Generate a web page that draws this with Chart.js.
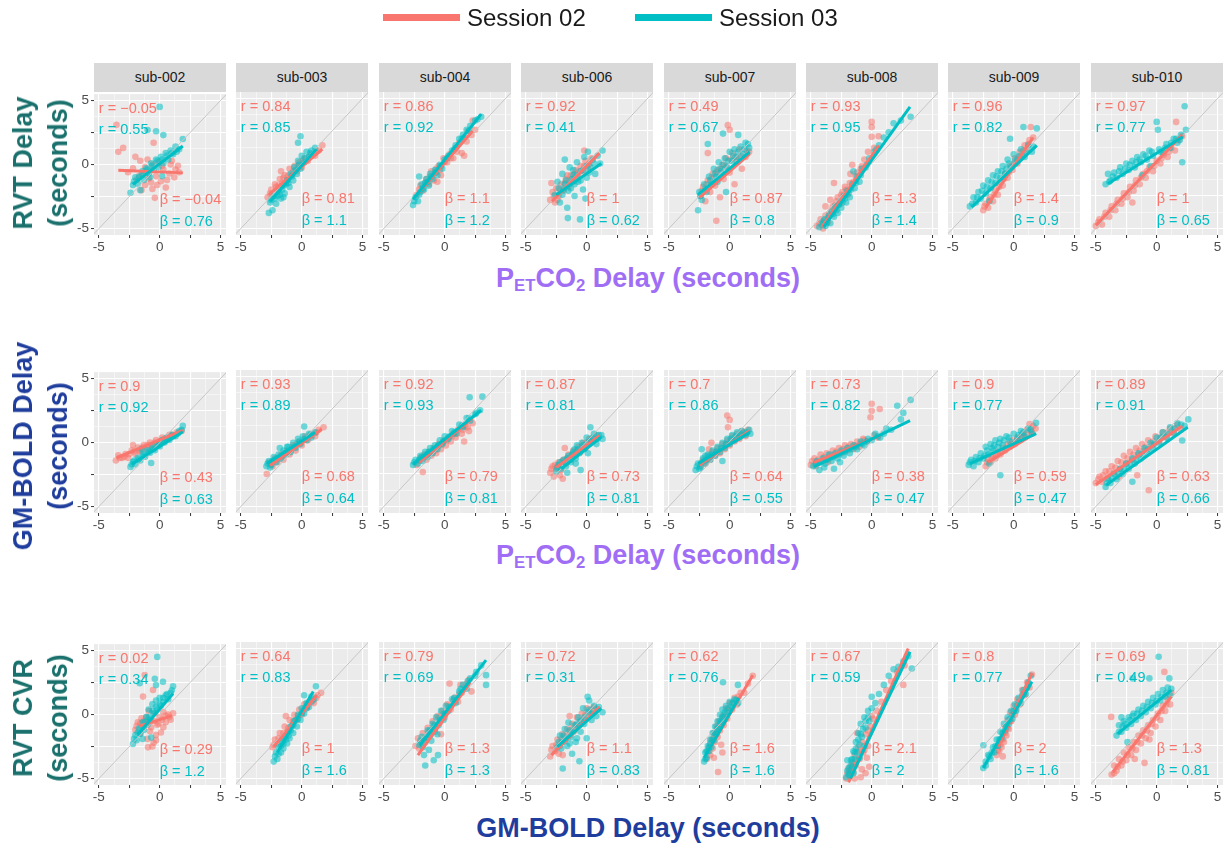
<!DOCTYPE html>
<html>
<head>
<meta charset="utf-8">
<script src="https://cdn.jsdelivr.net/npm/chart.js@4.4.1/dist/chart.umd.min.js"></script>
<style>
  body { margin: 0; background: #fff; font-family: "Liberation Sans", Arial, sans-serif; }
  #wrap { position: relative; width: 1225px; height: 844px; overflow: hidden; }
  canvas.panel { position: absolute; }
  .strip { position: absolute; height: 29px; line-height: 29px; background: #d9d9d9; color: #1a1a1a; font-size: 14px; text-align: center; }
  .ytitle { position: absolute; transform: translate(-50%, -50%) rotate(-90deg); white-space: nowrap; font-weight: bold; font-size: 27px; line-height: 35px; text-align: center; }
  .xtitle { position: absolute; transform: translateX(-50%); white-space: nowrap; font-weight: bold; font-size: 27px; line-height: 30px; }
  .xtitle sub { font-size: 0.62em; vertical-align: -0.25em; line-height: 0; }
  .legkey { position: absolute; height: 7px; }
  .legtxt { position: absolute; font-size: 24px; line-height: 28px; color: #1a1a1a; }
</style>
</head>
<body>
<div id="wrap"></div>
<script>
const subjects = ["sub-002", "sub-003", "sub-004", "sub-006", "sub-007", "sub-008", "sub-009", "sub-010"];
const sessions = ["Session 02", "Session 03"];
const tickValues = [-5, -3.75, -2.5, -1.25, 0, 1.25, 2.5, 3.75, 5];
const tickLabels = [-5, 0, 5];

// row 1: RVT delay vs PETCO2 delay
const rvtDelayS02 = [
  [[-3.55,3.1],[-3.4,1.0],[-3.0,1.3],[-2.6,-0.6],[-2.2,-0.3],[-1.9,-1.2],[-1.6,0.3],[-1.4,-0.8],[-1.2,-1.6],[-1.0,0.4],[-0.8,-0.5],[-0.6,-1.9],[-0.5,1.7],[-0.4,-2.6],[-0.3,-0.9],[-0.1,0.2],[0.1,-1.3],[0.3,-0.4],[0.5,-1.8],[0.8,-0.7],[1.0,0.3],[1.2,-1.0],[1.5,-0.1],[1.6,-0.6],[-2.0,0.6],[-1.5,-2.0],
   [-1.7,-0.9],[-1.2,-0.2],[-0.9,-1.1],[-0.6,0.0],[-0.2,-1.6],[0.2,-0.1],[0.6,-1.2],[0.9,0.0],[1.3,-0.4],[-0.7,-1.4]],
  [[-2.8,-2.6],[-2.5,-2.0],[-2.2,-1.6],[-2.0,-2.1],[-1.8,-1.2],[-1.6,-1.5],[-1.4,-0.9],[-1.2,-1.3],[-1.0,-0.4],[-0.8,-0.9],[-0.6,-0.2],[-0.4,-0.6],[-0.2,0.1],[0.0,-0.3],[0.2,0.4],[0.5,0.2],[0.8,0.7],[1.1,0.6],[1.4,1.0],[1.7,1.4],[-1.7,-0.6],
   [-2.6,-2.3],[-2.1,-1.8],[-1.5,-1.1],[-1.1,-0.9],[-0.7,-0.6],[-0.3,-0.2],[0.1,0.2],[0.6,0.5],[1.2,0.9],[-1.9,-1.7]],
  [[-2.3,-2.4],[-2.0,-1.7],[-1.8,-2.1],[-1.5,-1.2],[-1.3,-1.6],[-1.1,-0.6],[-0.9,-1.3],[-0.7,-0.4],[-0.5,-0.2],[-0.3,-0.9],[-0.1,0.4],[0.2,0.1],[0.4,0.7],[0.7,0.4],[0.9,1.2],[1.2,1.6],[1.4,0.8],[1.6,2.0],[1.9,2.5],[2.2,2.2],[1.6,0.6],[2.3,3.3],[-0.6,-1.4],
   [-2.1,-2.0],[-1.6,-1.5],[-1.2,-1.0],[-0.8,-0.7],[-0.4,-0.5],[0.0,0.1],[0.5,0.4],[1.0,0.9],[1.8,1.7],[2.5,2.6]],
  [[-3.0,-2.8],[-2.8,-2.2],[-2.6,-3.0],[-2.5,-1.9],[-2.3,-2.5],[-2.1,-1.6],[-1.9,-2.1],[-1.7,-1.2],[-1.5,-1.8],[-1.3,-0.9],[-1.1,-1.4],[-0.9,-0.5],[-0.7,-1.0],[-0.5,-0.2],[-0.3,-0.6],[-0.1,0.2],[0.1,-0.3],[0.4,0.4],[-2.9,-1.5],[-0.2,1.0],
   [-2.7,-2.5],[-2.2,-2.0],[-1.8,-1.5],[-1.4,-1.3],[-1.0,-0.8],[-0.6,-0.6],[-0.2,-0.2],[0.2,0.0],[-2.4,-2.8],[-1.6,-0.9]],
  [[-2.4,-2.5],[-2.2,-1.8],[-2.0,-2.9],[-1.8,0.8],[-1.8,-1.3],[-1.6,-2.2],[-1.4,-0.8],[-1.2,-1.7],[-1.1,-4.4],[-1.0,-0.5],[-0.8,-2.6],[-0.6,-0.1],[-0.5,-1.2],[-0.3,0.4],[-0.15,2.95],[0.0,2.6],[0.0,-0.7],[0.2,0.8],[0.4,-1.6],[0.6,0.2],[0.8,1.1],[1.0,-0.4],[1.3,0.5],[1.6,0.9],
   [-2.3,-2.1],[-1.9,-1.6],[-1.5,-1.1],[-1.1,-0.7],[-0.7,-0.4],[-0.3,-0.2],[0.1,0.3],[0.5,0.5],[0.9,0.6],[1.4,1.0]],
  [[-4.5,-4.8],[-4.2,-4.3],[-4.0,-5.0],[-3.8,-4.0],[-3.6,-4.5],[-3.4,-2.8],[-3.3,-3.6],[-3.1,-1.5],[-3.0,-3.2],[-2.8,-2.6],[-2.6,-3.1],[-2.4,-2.2],[-2.2,-1.8],[-2.0,-2.4],[-1.75,-0.8],[-1.6,-0.1],[-1.5,-1.4],[-1.2,-0.7],[-0.9,-0.4],[-0.6,0.3],[-0.3,0.9],[0.0,3.2],[0.0,2.8],[0.0,2.05],[0.2,1.2],[0.57,2.1],[-3.8,-3.3],
   [-4.3,-4.6],[-3.9,-4.4],[-3.5,-3.9],[-3.2,-3.3],[-2.9,-2.9],[-2.5,-2.4],[-2.1,-2.0],[-1.8,-1.5],[-1.3,-1.0],[-0.8,-0.2]],
  [[-2.5,-3.6],[-2.3,-3.1],[-2.1,-3.4],[-1.9,-2.6],[-1.7,-2.9],[-1.5,-2.1],[-1.3,-2.4],[-1.1,-1.4],[-0.9,-1.7],[-0.7,-0.8],[-0.5,-1.1],[-0.3,-0.2],[-0.1,-0.5],[0.1,0.4],[0.3,0.0],[0.5,0.9],[0.7,0.6],[0.9,1.4],[1.1,1.1],[1.3,1.8],[1.6,2.0],[1.4,2.8],
   [-2.4,-3.3],[-2.0,-2.8],[-1.6,-2.4],[-1.2,-1.8],[-0.8,-1.2],[-0.4,-0.7],[0.0,0.0],[0.4,0.5],[0.8,1.0],[1.2,1.5]],
  [[-5.0,-4.8],[-4.7,-4.3],[-4.5,-4.7],[-4.2,-3.8],[-3.9,-4.1],[-3.7,-3.3],[-3.4,-3.6],[-3.2,-2.8],[-2.9,-3.1],[-2.7,-2.3],[-2.4,-2.6],[-2.2,-1.8],[-1.9,-2.1],[-1.7,-1.3],[-1.4,-1.6],[-1.1,-0.8],[-0.9,-1.1],[-0.6,-0.3],[-0.3,-0.6],[0.0,0.2],[0.3,0.0],[0.6,0.7],[0.9,0.5],[1.2,1.2],[1.5,1.0],[1.8,1.8],[2.1,2.1],[1.6,3.2],[-2.0,-3.0],
   [-4.8,-4.5],[-4.3,-4.1],[-3.8,-3.6],[-3.3,-3.1],[-2.8,-2.7],[-2.3,-2.2],[-1.8,-1.7],[-1.3,-1.1],[-0.8,-0.6],[-0.2,-0.2],[0.4,0.4],[1.0,0.9]]
];
const rvtDelayS03 = [
  [[-2.4,-2.2],[-2.2,-1.6],[-2.0,-1.0],[-1.8,-1.5],[-1.5,-0.8],[-1.3,-1.2],[-1.1,-0.3],[-1.0,2.7],[-0.9,-0.7],[-0.7,0.1],[-0.5,-0.4],[-0.3,2.6],[-0.3,0.4],[-0.1,-0.2],[0.0,4.5],[0.1,0.6],[0.3,2.3],[0.3,0.1],[0.5,0.9],[0.7,0.4],[0.9,1.1],[1.1,0.8],[1.3,1.4],[1.6,1.2],[1.9,2.0],[-1.6,-2.0],[0.2,-0.9],
   [-2.1,-1.3],[-1.7,-1.0],[-1.4,-0.5],[-1.0,-0.4],[-0.6,-0.1],[-0.2,0.3],[0.2,0.4],[0.6,0.7],[1.0,0.9],[1.4,1.0],[-0.8,-1.0]],
  [[-2.6,-3.0],[-2.4,-3.6],[-2.3,-2.5],[-2.1,-3.1],[-1.9,-2.2],[-1.7,-2.7],[-1.5,-1.7],[-1.4,-2.3],[-1.2,-1.3],[-1.0,-1.8],[-0.9,-0.8],[-0.7,-1.3],[-0.6,-0.3],[-0.4,-0.8],[-0.3,0.2],[-0.1,-0.4],[0.0,0.6],[0.2,0.1],[0.4,0.9],[0.6,0.5],[0.8,1.0],[1.1,1.2],[-0.1,2.1],[-0.3,1.6],[-2.7,-3.8],
   [-2.5,-2.8],[-2.2,-2.7],[-1.8,-2.4],[-1.6,-2.0],[-1.3,-1.6],[-1.1,-1.5],[-0.8,-1.0],[-0.5,-0.5],[-0.2,-0.1],[0.3,0.4],[0.7,0.8],[-1.5,-2.6],[-2.0,-2.5]],
  [[-2.6,-3.2],[-2.4,-2.6],[-2.2,-2.9],[-2.0,-2.2],[-1.9,-1.6],[-1.7,-2.0],[-1.5,-1.2],[-1.3,-1.7],[-1.2,-0.8],[-1.0,-1.2],[-0.8,-0.5],[-0.6,-0.9],[-0.4,-0.1],[-0.2,-0.4],[0.0,0.3],[0.3,0.6],[0.6,1.0],[0.9,1.4],[1.2,1.9],[1.5,2.2],[1.8,2.6],[2.1,2.9],[2.5,3.3],[3.0,3.6],[-2.1,-1.0],
   [-2.5,-2.9],[-2.1,-2.4],[-1.8,-1.9],[-1.6,-1.5],[-1.4,-1.4],[-1.1,-1.0],[-0.7,-0.7],[-0.3,-0.2],[0.2,0.4],[0.8,1.1],[1.4,1.9],[2.0,2.5],[2.7,3.4]],
  [[-2.6,-2.4],[-2.4,-1.4],[-2.2,-3.0],[-2.0,-0.8],[-1.9,-2.0],[-1.7,-1.3],[-1.6,-3.4],[-1.55,-4.2],[-1.4,-0.3],[-1.3,-1.9],[-1.1,-0.9],[-1.0,-2.5],[-0.8,0.1],[-0.7,-1.4],[-0.55,-4.3],[-0.5,-0.6],[-0.3,-2.0],[-0.2,0.5],[0.0,-1.1],[0.1,0.9],[0.3,-0.3],[0.5,0.3],[0.7,-0.8],[0.9,0.6],[1.1,0.0],[1.3,1.0],[-1.8,0.3],
   [-2.3,-1.9],[-2.0,-2.4],[-1.8,-1.6],[-1.5,-2.1],[-1.2,-1.2],[-1.0,-1.6],[-0.8,-0.9],[-0.5,-1.3],[-0.3,-0.5],[0.0,-0.2],[0.2,-0.7],[0.6,0.0],[-1.1,-0.5],[-0.1,-2.7]],
  [[-2.6,-3.6],[-2.5,-2.2],[-2.3,-2.8],[-2.1,-1.6],[-1.9,-2.2],[-1.8,1.5],[-1.7,-1.0],[-1.5,-1.6],[-1.3,-0.4],[-1.1,-1.0],[-0.9,0.1],[-0.7,-0.6],[-0.55,2.3],[-0.4,0.4],[-0.2,-0.3],[0.0,0.9],[0.2,0.2],[0.4,1.1],[0.6,0.5],[0.7,2.2],[0.9,1.3],[1.1,0.7],[1.3,1.6],[1.6,1.2],[-0.3,-2.2],
   [-2.4,-2.5],[-2.0,-2.0],[-1.6,-1.3],[-1.2,-0.8],[-0.8,-0.4],[-0.5,-0.1],[-0.1,0.2],[0.3,0.6],[0.7,0.9],[1.2,1.1],[1.5,1.5],[-1.0,-1.4]],
  [[-4.3,-4.9],[-4.0,-4.5],[-3.8,-4.8],[-3.6,-4.2],[-3.4,-4.6],[-3.3,-3.7],[-3.1,-4.1],[-3.0,-3.3],[-2.8,-3.8],[-2.6,-2.9],[-2.5,-3.4],[-2.3,-2.5],[-2.1,-3.0],[-2.0,-2.1],[-1.8,-2.6],[-1.6,-1.6],[-1.4,-1.9],[-1.2,-1.0],[-1.0,-1.4],[-0.8,-0.4],[-0.5,-0.3],[-0.2,0.4],[0.2,0.9],[0.6,1.4],[1.0,2.0],[1.4,2.4],[1.8,3.1],[2.4,3.3],[3.2,3.6],[-1.5,-0.6],
   [-4.1,-4.7],[-3.9,-4.3],[-3.7,-4.6],[-3.5,-4.0],[-3.2,-3.9],[-2.9,-3.6],[-2.7,-3.2],[-2.4,-3.0],[-2.2,-2.7],[-1.9,-2.3],[-1.7,-2.0],[-1.3,-1.5],[-0.9,-0.9],[-0.4,-0.1],[0.4,1.1]],
  [[-3.6,-3.3],[-3.3,-2.6],[-3.1,-3.0],[-2.9,-2.2],[-2.7,-2.7],[-2.5,-1.7],[-2.3,-2.3],[-2.1,-1.3],[-1.9,-1.9],[-1.7,-0.9],[-1.5,-1.5],[-1.3,-0.6],[-1.1,-1.1],[-0.9,-0.2],[-0.7,-0.8],[-0.5,0.3],[-0.3,1.9],[-0.2,-0.3],[0.0,0.7],[0.3,0.3],[0.6,1.1],[0.8,2.8],[0.9,0.5],[1.2,1.4],[1.5,0.9],[1.9,2.7],[-2.0,-2.9],
   [-3.4,-3.1],[-3.0,-2.6],[-2.6,-2.1],[-2.2,-1.8],[-1.8,-1.4],[-1.4,-1.0],[-1.0,-0.6],[-0.6,-0.4],[-0.4,0.0],[0.1,0.2],[0.5,0.6],[1.0,0.9],[1.6,1.3]],
  [[-4.2,-1.6],[-4.0,-0.8],[-3.8,-1.3],[-3.5,-0.7],[-3.3,-1.1],[-3.0,-0.3],[-2.8,-0.8],[-2.5,0.0],[-2.3,-0.5],[-2.0,0.2],[-1.8,-0.3],[-1.6,0.5],[-1.3,0.1],[-1.1,0.7],[-0.8,0.3],[-0.6,1.0],[-0.3,0.6],[0.0,3.2],[0.1,2.6],[0.2,1.1],[0.5,0.8],[0.8,1.5],[1.1,1.2],[1.4,1.9],[1.7,1.6],[2.0,2.2],[2.1,0.1],[2.3,4.4],[2.4,2.6],[-1.2,-0.9],[-0.5,-0.2],
   [-3.9,-1.4],[-3.6,-1.0],[-3.1,-0.6],[-2.6,-0.4],[-2.2,-0.1],[-1.7,0.1],[-1.4,0.3],[-0.9,0.6],[-0.4,0.9],[0.3,0.9],[0.7,1.2],[1.2,1.6],[1.6,1.9],[1.9,1.8]]
];
const rvtDelayFitS02 = [[-3.4,-0.45,1.9,-0.65],[-2.7,-2.4,1.7,1.1],[-2.2,-2.3,2.3,2.5],[-2.85,-2.9,1.05,0.8],[-2.45,-2.6,1.65,0.75],[-4.1,-4.9,0.6,1.4],[-2.3,-3.4,1.6,2.0],[-5.0,-4.75,2.1,2.2]];
const rvtDelayFitS03 = [[-2.2,-1.55,1.9,1.45],[-2.6,-2.9,1.2,1.1],[-2.6,-2.75,3.0,3.8],[-2.5,-2.4,1.2,0.0],[-2.6,-2.4,1.65,0.9],[-3.95,-4.9,3.15,4.35],[-3.45,-3.35,1.9,1.4],[-4.0,-1.55,2.15,2.05]];
const rvtDelayR02 = [-0.05, 0.84, 0.86, 0.92, 0.49, 0.93, 0.96, 0.97];
const rvtDelayR03 = [0.55, 0.85, 0.92, 0.41, 0.67, 0.95, 0.82, 0.77];
const rvtDelayB02 = [-0.04, 0.81, 1.1, 1, 0.87, 1.3, 1.4, 1];
const rvtDelayB03 = [0.76, 1.1, 1.2, 0.62, 0.8, 1.4, 0.9, 0.65];

// row 2: GM-BOLD delay vs PETCO2 delay
const gmDelayS02 = [
  [[-3.6,-1.4],[-3.4,-1.0],[-3.1,-1.2],[-2.8,-0.9],[-2.6,-1.2],[-2.3,-0.6],[-2.0,-0.9],[-1.8,-0.4],[-1.6,-0.7],[-1.3,-0.2],[-1.1,-0.5],[-0.8,0.0],[-0.6,-0.3],[-0.3,0.2],[-0.1,-0.1],[0.2,0.4],[0.5,0.3],[0.8,0.6],[1.1,0.5],[1.4,0.8],[1.8,0.9],[-2.2,-0.2],
   [-3.3,-1.2],[-2.9,-1.1],[-2.5,-0.9],[-2.1,-0.7],[-1.7,-0.6],[-1.4,-0.4],[-1.0,-0.2],[-0.7,-0.2],[-0.4,0.0],[0.0,0.1],[0.4,0.3],[1.0,0.6]],
  [[-2.87,-2.5],[-2.7,-1.6],[-2.4,-1.9],[-2.2,-1.3],[-2.0,-1.6],[-1.7,-1.0],[-1.5,-1.4],[-1.2,-0.7],[-1.0,-1.0],[-0.7,-0.3],[-0.5,-0.7],[-0.2,0.0],[0.0,-0.3],[0.3,0.4],[0.5,0.1],[0.8,0.6],[1.1,0.4],[1.4,0.9],[1.8,1.1],
   [-2.5,-1.7],[-2.1,-1.4],[-1.8,-1.2],[-1.4,-0.9],[-1.1,-0.8],[-0.8,-0.5],[-0.4,-0.2],[-0.1,-0.1],[0.2,0.2],[0.7,0.4],[1.2,0.7]],
  [[-2.3,-1.8],[-2.0,-1.3],[-1.8,-2.35],[-1.7,-1.0],[-1.5,-1.4],[-1.3,-0.8],[-1.1,-1.1],[-0.9,-0.5],[-0.7,-0.9],[-0.5,-0.2],[-0.3,-0.6],[-0.1,0.1],[0.1,-0.3],[0.3,0.3],[0.5,0.0],[0.7,0.6],[0.9,0.3],[1.1,0.9],[1.4,0.6],[1.7,1.2],[2.0,0.8],[2.3,1.4],[1.6,0.0],
   [-2.1,-1.5],[-1.9,-1.2],[-1.4,-1.0],[-1.2,-0.9],[-0.8,-0.7],[-0.6,-0.4],[-0.2,-0.2],[0.2,0.1],[0.6,0.4],[1.0,0.6],[1.5,0.9],[1.9,1.1]],
  [[-3.0,-2.4],[-2.8,-1.9],[-2.7,-2.7],[-2.5,-2.1],[-2.3,-1.6],[-2.1,-2.2],[-1.97,-2.86],[-1.9,-1.4],[-1.7,-1.7],[-1.5,-1.0],[-1.3,-1.4],[-1.1,-0.7],[-0.9,-1.0],[-0.7,-0.4],[-0.5,-0.8],[-0.3,-0.1],[-0.1,-0.5],[0.2,0.2],[0.5,0.0],[0.8,0.5],[-1.8,-0.5],
   [-2.9,-2.1],[-2.6,-1.8],[-2.4,-1.9],[-2.0,-1.5],[-1.6,-1.3],[-1.2,-1.0],[-0.8,-0.7],[-0.4,-0.4],[0.0,-0.1],[0.4,0.2],[-2.2,-2.6]],
  [[-2.4,-1.9],[-2.2,-1.4],[-2.0,-1.7],[-1.8,-1.1],[-1.6,-1.4],[-1.4,-0.8],[-1.2,-1.1],[-1.0,-0.5],[-0.8,-0.9],[-0.6,-0.2],[-0.4,-0.6],[-0.2,2.0],[0.0,1.66],[-0.14,1.1],[-0.2,0.1],[0.0,-0.3],[0.2,0.4],[0.4,0.0],[0.6,0.6],[0.8,0.2],[1.0,0.8],[1.3,0.4],[1.5,0.9],[-1.5,-0.1],
   [-2.3,-1.6],[-1.9,-1.4],[-1.5,-1.1],[-1.1,-0.8],[-0.7,-0.5],[-0.3,-0.2],[0.1,0.1],[0.5,0.3],[0.9,0.5],[1.2,0.7],[-1.7,-0.6]],
  [[-5.0,-1.8],[-4.7,-1.3],[-4.5,-1.6],[-4.2,-1.0],[-4.0,-1.5],[-3.7,-0.9],[-3.5,-1.3],[-3.2,-0.7],[-3.0,-1.1],[-2.7,-0.5],[-2.5,-0.9],[-2.2,-0.3],[-2.0,-0.7],[-1.7,-0.2],[-1.5,-0.6],[-1.2,0.0],[-1.0,-0.4],[-0.7,0.2],[-0.4,0.0],[-0.1,1.86],[0.0,2.9],[0.0,2.37],[0.2,0.5],[0.66,2.5],[0.5,0.3],
   [-4.9,-1.5],[-4.4,-1.4],[-3.9,-1.2],[-3.4,-1.0],[-2.9,-0.8],[-2.4,-0.6],[-1.9,-0.4],[-1.4,-0.3],[-0.9,-0.1],[-0.6,0.1],[-4.6,-1.9],[-3.6,-1.6]],
  [[-2.3,-1.9],[-2.1,-1.4],[-1.9,-1.6],[-1.7,-1.1],[-1.5,-1.3],[-1.3,-0.8],[-1.1,-1.0],[-0.9,-0.5],[-0.7,-0.7],[-0.5,-0.2],[-0.3,-0.4],[-0.1,0.1],[0.1,-0.2],[0.3,0.3],[0.5,0.1],[0.7,0.6],[0.9,0.3],[1.1,0.9],[1.3,1.35],[1.5,0.7],[1.8,1.0],
   [-2.2,-1.6],[-1.8,-1.3],[-1.4,-1.1],[-1.0,-0.8],[-0.6,-0.5],[-0.2,-0.2],[0.2,0.0],[0.6,0.3],[1.0,0.5],[1.4,0.8],[1.6,1.2]],
  [[-5.0,-3.2],[-4.7,-2.7],[-4.5,-3.1],[-4.2,-2.3],[-4.0,-2.8],[-3.7,-1.9],[-3.5,-2.4],[-3.2,-1.5],[-3.0,-2.1],[-2.7,-1.1],[-2.5,-1.7],[-2.2,-0.8],[-2.0,-1.4],[-1.7,-0.5],[-1.5,-1.0],[-1.2,-0.2],[-1.0,-0.7],[-0.65,-3.75],[-0.7,0.1],[-0.4,-0.3],[-0.1,0.4],[0.2,0.0],[0.5,0.7],[0.8,0.3],[1.1,1.0],[1.4,0.6],[1.7,1.3],[2.0,0.9],[-1.6,-2.6],
   [-4.8,-2.9],[-4.4,-2.6],[-3.9,-2.3],[-3.4,-2.0],[-2.9,-1.6],[-2.4,-1.3],[-1.9,-1.0],[-1.4,-0.7],[-0.9,-0.4],[-0.3,0.0],[0.3,0.3],[0.9,0.7],[1.5,1.0],[-3.1,-2.7]]
];
const gmDelayS03 = [
  [[-2.4,-1.9],[-2.2,-1.5],[-2.0,-1.7],[-1.8,-1.2],[-1.6,-1.4],[-1.4,-0.9],[-1.2,-1.1],[-1.0,-0.6],[-0.8,-0.8],[-0.7,-1.6],[-0.6,-0.4],[-0.4,-0.6],[-0.2,-0.1],[0.0,-0.3],[0.2,0.2],[0.4,0.0],[0.6,0.4],[0.8,0.2],[1.0,0.6],[1.3,0.5],[1.6,0.9],[1.9,1.3],[-1.5,-0.5],
   [-2.3,-1.7],[-2.1,-1.4],[-1.7,-1.3],[-1.3,-1.0],[-0.9,-0.7],[-0.5,-0.5],[-0.1,-0.2],[0.3,0.1],[0.7,0.3],[1.1,0.5],[1.5,0.7],[1.8,1.0]],
  [[-2.9,-1.9],[-2.7,-1.5],[-2.5,-1.8],[-2.3,-1.2],[-2.1,-1.6],[-1.9,-1.0],[-1.7,-1.3],[-1.5,-0.7],[-1.3,-1.0],[-1.1,-0.4],[-0.9,-0.8],[-0.7,-0.1],[-0.5,-0.5],[-0.3,0.2],[-0.1,-0.2],[0.1,0.4],[0.2,1.15],[0.4,0.1],[0.6,0.6],[0.8,0.3],[1.1,0.7],[-1.8,-0.5],
   [-2.8,-1.7],[-2.4,-1.5],[-2.2,-1.4],[-2.0,-1.3],[-1.6,-1.1],[-1.4,-0.9],[-1.0,-0.7],[-0.6,-0.4],[-0.2,0.0],[0.3,0.2],[0.7,0.5],[-2.6,-2.0],[-1.2,-0.4]],
  [[-2.6,-1.8],[-2.4,-1.4],[-2.2,-1.7],[-2.0,-1.1],[-1.8,-1.5],[-1.6,-0.8],[-1.4,-1.2],[-1.2,-0.5],[-1.0,-0.9],[-0.8,-0.3],[-0.6,-0.6],[-0.4,0.1],[-0.2,-0.2],[0.0,0.4],[0.3,0.2],[0.6,0.8],[0.9,0.6],[1.2,1.3],[1.5,1.1],[1.8,1.8],[2.1,1.6],[2.05,3.4],[2.5,2.1],[3.1,3.45],[2.9,2.4],
   [-2.5,-1.6],[-2.1,-1.4],[-1.9,-1.2],[-1.5,-1.0],[-1.3,-0.8],[-0.9,-0.6],[-0.5,-0.3],[-0.1,0.0],[0.4,0.4],[0.8,0.7],[1.4,1.2],[2.0,1.8],[2.6,2.2]],
  [[-2.5,-2.3],[-2.3,-1.8],[-2.1,-2.1],[-1.9,-1.4],[-1.7,-1.9],[-1.5,-1.1],[-1.3,-1.6],[-1.1,-0.8],[-0.9,-1.3],[-0.8,-0.3],[-0.6,-0.9],[-0.4,-0.1],[-0.2,-0.6],[0.0,0.3],[0.1,-0.9],[0.3,1.1],[0.4,0.1],[0.6,0.6],[0.8,-0.2],[1.0,0.5],[1.3,0.2],[-1.6,-2.4],[-0.5,-2.2],
   [-2.4,-2.0],[-2.2,-1.6],[-1.8,-1.6],[-1.6,-1.3],[-1.4,-1.4],[-1.2,-1.0],[-1.0,-0.6],[-0.7,-0.6],[-0.3,-0.3],[0.2,0.0],[0.5,0.3],[0.9,0.2],[1.2,0.5],[-0.9,-1.7]],
  [[-2.8,-2.2],[-2.6,-1.7],[-2.4,-2.0],[-2.2,-1.3],[-2.0,-1.7],[-1.8,-1.0],[-1.6,-1.4],[-1.4,-0.7],[-1.2,-1.1],[-1.0,-0.4],[-0.8,-0.8],[-0.6,-0.1],[-0.4,-0.5],[-0.2,0.2],[0.0,-0.2],[0.2,0.5],[0.4,0.1],[0.6,0.7],[0.8,0.3],[1.0,0.8],[1.3,0.5],[1.6,0.9],[1.7,0.6],[-2.3,-0.6],[-0.6,-1.5],
   [-2.7,-1.9],[-2.5,-2.1],[-2.1,-1.5],[-1.7,-1.2],[-1.5,-1.0],[-1.1,-0.8],[-0.7,-0.5],[-0.3,-0.2],[0.1,0.2],[0.5,0.4],[0.9,0.6],[1.4,0.7],[-2.0,-1.1]],
  [[-4.8,-1.9],[-4.5,-1.5],[-4.3,-2.2],[-4.0,-1.3],[-3.8,-1.7],[-3.5,-1.0],[-3.3,-1.5],[-3.1,-2.1],[-3.0,-0.9],[-2.8,-1.3],[-2.5,-0.7],[-2.3,-1.1],[-2.0,-0.5],[-1.8,-0.9],[-1.5,-0.3],[-1.2,-0.6],[-0.9,0.0],[-0.6,-0.3],[-0.3,0.2],[0.0,0.1],[0.3,0.6],[0.7,0.3],[1.2,1.0],[1.6,0.9],[2.1,2.75],[2.4,1.7],[3.2,3.2],[2.6,2.2],
   [-4.6,-1.7],[-4.2,-1.6],[-3.7,-1.4],[-3.2,-1.2],[-2.7,-1.0],[-2.2,-0.8],[-1.7,-0.6],[-1.3,-0.4],[-0.8,-0.2],[-0.4,0.0],[0.5,0.4],[1.0,0.6],[-3.9,-2.0],[-2.6,-1.6]],
  [[-3.7,-1.8],[-3.5,-1.4],[-3.3,-1.9],[-3.1,-1.2],[-2.9,-1.6],[-2.7,-0.9],[-2.5,-1.3],[-2.3,-0.4],[-2.1,-1.0],[-1.9,-0.2],[-1.7,-0.7],[-1.5,0.1],[-1.3,-0.4],[-1.1,-2.6],[-1.1,0.2],[-0.9,-0.3],[-0.6,0.4],[-0.3,0.0],[0.0,0.6],[0.3,0.2],[0.6,0.8],[0.9,0.4],[1.2,1.0],[1.5,0.6],[1.84,1.43],[-2.0,-1.7],
   [-3.6,-1.6],[-3.2,-1.5],[-2.8,-1.3],[-2.4,-1.1],[-2.2,-0.7],[-1.8,-0.5],[-1.6,-0.3],[-1.2,-0.1],[-0.8,0.1],[-0.4,0.3],[0.4,0.5],[0.8,0.7],[1.4,0.9]],
  [[-4.2,-3.5],[-4.0,-2.9],[-3.8,-3.2],[-3.5,-2.5],[-3.3,-2.9],[-3.0,-2.1],[-2.8,-2.5],[-2.5,-1.7],[-2.3,-2.1],[-2.0,-3.1],[-2.0,-1.3],[-1.8,-1.7],[-1.5,-0.9],[-1.3,-1.3],[-1.0,-0.5],[-0.8,-0.9],[-0.5,-0.1],[-0.3,-0.5],[0.0,0.3],[0.2,-0.1],[0.5,0.7],[0.8,0.3],[1.1,1.1],[1.4,0.7],[1.7,1.4],[2.1,0.08],[2.3,1.2],[2.6,1.7],
   [-4.1,-3.2],[-3.7,-2.8],[-3.2,-2.4],[-2.7,-2.1],[-2.2,-1.7],[-1.7,-1.4],[-1.2,-1.0],[-0.7,-0.6],[-0.2,-0.2],[0.4,0.3],[0.9,0.6],[1.5,1.0],[2.0,1.3]]
];
const gmDelayFitS02 = [[-3.55,-1.2,1.9,0.95],[-2.6,-1.85,1.65,0.95],[-2.1,-1.6,2.3,1.8],[-2.5,-2.0,1.05,0.45],[-2.5,-1.8,1.6,0.8],[-4.75,-1.6,0.7,0.45],[-2.1,-1.6,1.7,0.6],[-5.0,-3.3,2.1,1.2]];
const gmDelayFitS03 = [[-2.3,-1.7,1.9,0.85],[-2.85,-1.7,1.1,0.7],[-2.6,-1.75,3.0,2.4],[-2.1,-2.1,1.2,0.35],[-2.6,-1.7,1.65,0.7],[-4.75,-1.95,3.15,1.6],[-3.6,-1.7,1.85,0.6],[-4.15,-3.35,2.55,1.1]];
const gmDelayR02 = [0.9, 0.93, 0.92, 0.87, 0.7, 0.73, 0.9, 0.89];
const gmDelayR03 = [0.92, 0.89, 0.93, 0.81, 0.86, 0.82, 0.77, 0.91];
const gmDelayB02 = [0.43, 0.68, 0.79, 0.73, 0.64, 0.38, 0.59, 0.63];
const gmDelayB03 = [0.63, 0.64, 0.81, 0.81, 0.55, 0.47, 0.47, 0.66];

// row 3: RVT CVR vs GM-BOLD delay
const rvtCvrS02 = [
  [[-2.0,-1.2],[-1.8,-0.6],[-1.6,-1.5],[-1.5,-0.3],[-1.37,1.4],[-1.3,-1.0],[-1.23,3.08],[-1.1,-0.2],[-1.0,-1.9],[-0.96,-2.56],[-0.9,0.3],[-0.8,-1.3],[-0.7,-0.5],[-0.55,1.92],[-0.5,-2.2],[-0.4,0.1],[-0.3,-1.6],[-0.2,-0.8],[0.0,-0.2],[0.1,-1.4],[0.3,0.2],[0.5,-0.6],[0.7,0.0],[0.9,-0.4],[1.1,0.1],[-0.6,-2.5],
   [-1.9,-0.9],[-1.6,-0.7],[-1.3,-0.5],[-1.0,-0.6],[-0.7,-1.0],[-0.4,-0.5],[-0.1,-0.7],[0.2,-0.4],[0.5,-0.1],[0.8,-0.2],[-0.3,-2.0],[0.3,-1.0]],
  [[-2.4,-2.6],[-2.2,-2.0],[-2.0,-2.3],[-1.8,-1.5],[-1.6,-1.9],[-1.4,-1.0],[-1.2,-1.4],[-1.0,-0.5],[-0.8,-0.9],[-0.6,-0.1],[-0.4,-0.5],[-0.2,0.3],[0.0,-0.1],[0.2,0.7],[0.4,0.4],[0.7,1.0],[1.0,0.8],[1.3,1.4],[1.6,1.6],[-1.3,-0.2],
   [-2.3,-2.4],[-1.9,-1.9],[-1.5,-1.5],[-1.1,-1.1],[-0.7,-0.6],[-0.3,-0.2],[0.1,0.2],[0.5,0.6],[0.9,1.0],[1.2,1.2]],
  [[-2.4,-2.5],[-2.2,-1.9],[-2.0,-2.3],[-1.8,-1.5],[-1.6,-1.9],[-1.4,-1.1],[-1.2,-1.6],[-1.0,-0.6],[-0.8,-1.2],[-0.6,-0.2],[-0.4,-0.7],[-0.2,0.2],[0.0,-0.3],[0.2,0.7],[0.4,2.3],[0.5,0.3],[0.8,1.2],[1.1,0.9],[1.3,2.2],[1.4,1.6],[1.7,2.0],[2.0,2.6],[2.2,1.7],[-0.3,-1.6],
   [-2.1,-2.7],[-1.7,-2.1],[-1.3,-1.4],[-0.9,-0.9],[-0.5,-0.3],[-0.1,0.0],[0.3,0.6],[0.7,1.0],[1.2,1.5],[1.8,2.3]],
  [[-3.0,-3.3],[-2.8,-2.5],[-2.6,-2.9],[-2.4,-2.0],[-2.2,-2.5],[-2.0,-1.6],[-1.97,-3.2],[-1.8,-2.1],[-1.6,-1.2],[-1.4,-1.7],[-1.2,-0.8],[-1.0,-1.3],[-0.8,-0.3],[-0.6,-0.9],[-0.4,0.0],[-0.2,-0.5],[0.0,0.4],[0.3,0.0],[0.6,0.5],[-1.4,-0.2],
   [-2.9,-2.8],[-2.5,-2.4],[-2.1,-2.0],[-1.7,-1.7],[-1.3,-1.3],[-0.9,-0.9],[-0.5,-0.5],[-0.1,-0.1],[0.4,0.3],[-2.3,-3.1]],
  [[-1.9,-3.5],[-1.7,-2.6],[-1.6,-3.2],[-1.5,-2.0],[-1.4,-2.7],[-1.3,-1.5],[-1.2,-2.2],[-1.1,-1.0],[-1.0,-1.8],[-0.96,-4.5],[-0.9,-0.6],[-0.8,-1.3],[-0.6,-0.2],[-0.5,-0.9],[-0.3,0.4],[-0.2,-0.4],[0.0,0.8],[0.2,0.3],[0.4,1.2],[0.6,0.7],[0.9,1.6],[1.2,1.6],[1.5,2.3],[1.9,2.9],[-0.6,-3.0],
   [-1.8,-2.9],[-1.6,-2.4],[-1.4,-2.0],[-1.2,-1.6],[-1.0,-1.2],[-0.8,-0.8],[-0.6,-0.5],[-0.4,-0.1],[-0.1,0.3],[0.3,0.8],[0.7,1.3],[-1.3,-3.4],[-0.7,-2.4]],
  [[-2.1,-5.0],[-1.9,-4.3],[-1.8,-4.8],[-1.6,-3.8],[-1.5,-4.5],[-1.4,-3.2],[-1.3,-4.0],[-1.1,-2.6],[-1.0,-3.5],[-0.9,-4.9],[-0.8,-2.2],[-0.7,-3.0],[-0.5,-4.6],[-0.5,-1.6],[-0.3,-2.5],[-0.2,-4.1],[-0.1,-1.0],[0.1,-0.4],[0.4,0.2],[0.8,0.9],[1.2,1.8],[1.6,2.5],[2.1,3.2],[2.6,2.2],[2.7,3.7],[-1.2,-1.5],
   [-2.0,-4.6],[-1.7,-4.4],[-1.5,-3.9],[-1.2,-3.6],[-1.0,-2.9],[-0.8,-4.3],[-0.6,-2.8],[-0.4,-3.4],[-0.3,-1.3],[0.0,-0.2],[-1.4,-5.0],[-1.8,-4.1]],
  [[-1.4,-3.2],[-1.3,-2.5],[-1.2,-2.9],[-1.1,-2.0],[-1.0,-2.6],[-0.9,-1.5],[-0.8,-2.2],[-0.7,-1.0],[-0.6,-1.7],[-0.5,-0.5],[-0.4,-1.2],[-0.3,0.1],[-0.2,-0.6],[0.0,0.6],[0.1,-0.1],[0.3,1.1],[0.5,0.7],[0.7,1.8],[0.9,1.4],[1.1,2.4],[1.3,2.0],[1.5,3.0],[-0.9,-3.3],
   [-1.3,-2.8],[-1.1,-2.4],[-0.9,-2.0],[-0.7,-1.5],[-0.5,-1.1],[-0.3,-0.6],[-0.1,-0.1],[0.2,0.3],[0.4,0.9],[0.8,1.5],[1.2,2.2]],
  [[-3.7,-4.7],[-3.5,-4.0],[-3.3,-4.4],[-3.1,-3.5],[-2.9,-4.0],[-2.7,-3.0],[-2.5,-3.6],[-2.3,-2.6],[-2.1,-3.2],[-1.9,-2.2],[-1.7,-2.8],[-1.5,-1.7],[-1.3,-2.3],[-1.1,-1.3],[-0.9,-1.9],[-0.7,-0.9],[-0.5,-1.5],[-0.3,-0.5],[-0.1,-1.0],[0.1,0.0],[0.3,-0.5],[0.5,0.6],[0.7,0.2],[0.9,1.1],[1.1,0.7],[1.2,1.6],[0.63,3.2],[-3.74,-0.26],[-1.0,-3.8],
   [-3.5,-4.6],[-3.2,-4.1],[-2.8,-3.7],[-2.4,-3.2],[-2.0,-2.7],[-1.6,-2.2],[-1.2,-1.7],[-0.8,-1.3],[-0.4,-0.8],[0.0,-0.3],[0.4,0.2],[0.8,0.7],[-1.8,-3.5],[-0.6,-2.0]]
];
const rvtCvrS03 = [
  [[-2.2,-2.3],[-2.0,-1.6],[-1.9,-2.0],[-1.7,-1.1],[-1.64,2.44],[-1.6,-1.5],[-1.4,-0.6],[-1.3,-1.2],[-1.1,-0.2],[-1.0,-0.8],[-0.9,0.4],[-0.8,-0.4],[-0.6,0.8],[-0.5,0.1],[-0.4,2.8],[-0.3,1.1],[-0.2,4.5],[-0.2,0.4],[0.0,1.3],[0.1,0.7],[0.27,2.56],[0.3,1.0],[0.5,1.5],[0.7,1.2],[0.9,1.7],[1.1,2.2],[-0.7,-1.8],
   [-2.1,-1.9],[-1.8,-1.4],[-1.5,-1.0],[-1.2,-0.6],[-0.9,-0.2],[-0.6,0.3],[-0.3,0.6],[0.0,0.8],[0.3,1.3],[0.6,1.6],[1.0,1.9],[-1.4,-1.9],[-0.3,2.3]],
  [[-2.3,-3.7],[-2.1,-3.0],[-2.0,-3.5],[-1.9,-2.6],[-1.7,-3.0],[-1.6,-2.2],[-1.5,-2.7],[-1.4,-1.8],[-1.2,-2.3],[-1.1,-1.4],[-1.0,-1.9],[-0.9,-1.0],[-0.7,-1.5],[-0.6,-0.6],[-0.4,-1.0],[-0.3,-0.1],[-0.1,-0.5],[0.0,0.4],[0.2,1.4],[0.2,0.0],[0.4,0.8],[0.6,0.5],[0.8,1.3],[1.0,1.1],[1.17,2.1],
   [-2.2,-3.3],[-1.9,-3.1],[-1.7,-2.5],[-1.5,-2.3],[-1.3,-2.0],[-1.1,-1.7],[-0.9,-1.3],[-0.7,-0.9],[-0.5,-0.5],[-0.3,-0.4],[0.0,0.0],[0.4,0.4],[0.8,0.9]],
  [[-2.1,-2.4],[-1.9,-1.8],[-1.7,-3.2],[-1.6,-2.2],[-1.4,-1.3],[-1.3,-2.8],[-1.2,-1.7],[-1.0,-0.8],[-0.9,-3.6],[-0.8,-1.4],[-0.7,-0.3],[-0.55,-3.2],[-0.5,-0.9],[-0.3,0.2],[-0.1,-0.5],[0.1,0.6],[0.3,0.2],[0.6,1.1],[0.9,0.8],[1.2,1.7],[1.5,2.2],[1.8,1.9],[2.1,2.7],[2.5,2.9],[3.0,3.7],[3.4,2.2],[3.4,2.95],[-1.6,-4.0],
   [-2.0,-2.1],[-1.8,-2.6],[-1.5,-1.8],[-1.2,-1.3],[-1.1,-2.1],[-0.8,-0.9],[-0.6,-1.6],[-0.4,-0.5],[0.0,0.0],[0.4,0.5],[0.8,1.2],[1.3,1.9],[1.9,2.5],[2.6,3.2]],
  [[-2.4,-2.6],[-2.2,-1.7],[-2.0,-2.2],[-1.97,-4.23],[-1.8,-1.2],[-1.6,-2.5],[-1.5,-0.7],[-1.3,-1.8],[-1.2,-3.1],[-1.0,-0.9],[-0.9,-2.2],[-0.7,-0.3],[-0.6,-3.67],[-0.5,-1.4],[-0.3,0.4],[-0.2,-0.8],[0.0,-1.9],[0.08,1.28],[0.1,0.1],[0.2,1.0],[0.4,-0.5],[0.6,0.6],[0.8,-0.2],[1.0,0.5],[1.3,0.1],
   [-2.3,-2.2],[-2.1,-2.7],[-1.9,-1.7],[-1.7,-1.9],[-1.4,-1.3],[-1.1,-1.4],[-0.8,-0.8],[-0.5,-0.6],[-0.2,-0.3],[0.2,0.3],[0.5,0.0],[0.9,0.3],[-1.4,-2.3],[-0.8,-1.9]],
  [[-2.1,-3.7],[-2.0,-3.0],[-1.9,-3.4],[-1.8,-2.5],[-1.7,-2.9],[-1.6,-2.0],[-1.5,-2.6],[-1.4,-1.5],[-1.3,-2.1],[-1.2,-1.0],[-1.1,-1.6],[-1.0,-0.6],[-0.9,-1.2],[-0.8,-0.1],[-0.7,-0.7],[-0.6,0.3],[-0.55,2.4],[-0.5,-0.3],[-0.3,0.6],[-0.2,0.1],[0.0,0.9],[0.2,0.5],[0.4,1.1],[0.68,2.2],[0.7,0.8],
   [-2.0,-3.5],[-1.9,-2.9],[-1.7,-2.6],[-1.6,-2.3],[-1.4,-2.0],[-1.2,-1.5],[-1.0,-1.1],[-0.8,-0.6],[-0.6,-0.3],[-0.4,0.1],[-0.1,0.4],[0.2,0.8],[0.5,1.0]],
  [[-2.1,-4.9],[-1.9,-4.2],[-1.8,-4.6],[-1.7,-3.6],[-1.6,-4.1],[-1.5,-2.9],[-1.4,-3.5],[-1.3,-2.2],[-1.2,-3.0],[-1.1,-1.5],[-1.0,-2.4],[-0.9,-0.8],[-0.8,-1.8],[-0.6,-0.3],[-0.5,-1.1],[-0.3,0.2],[-0.2,-0.6],[0.0,1.28],[0.0,0.4],[0.3,0.8],[0.6,1.5],[1.0,2.2],[1.4,2.9],[1.8,3.4],[2.2,3.6],[2.6,4.0],[3.0,4.4],[3.3,3.46],[-2.0,-3.6],
   [-2.0,-4.4],[-1.9,-4.7],[-1.7,-4.0],[-1.6,-3.5],[-1.4,-3.0],[-1.3,-2.7],[-1.1,-2.0],[-0.9,-1.6],[-0.7,-1.2],[-0.5,-0.6],[-0.3,-0.3],[-1.5,-4.6],[-1.0,-3.4],[-0.6,-2.5]],
  [[-2.5,-4.2],[-2.49,-2.44],[-2.3,-3.7],[-2.1,-3.2],[-1.9,-3.5],[-1.7,-2.6],[-1.6,-3.0],[-1.4,-2.0],[-1.3,-2.5],[-1.1,-1.4],[-1.0,-1.9],[-0.8,-0.8],[-0.7,-1.3],[-0.5,-0.3],[-0.4,-0.8],[-0.2,0.2],[-0.1,-0.4],[0.1,0.7],[0.2,0.2],[0.4,1.2],[0.6,0.8],[0.8,1.8],[1.0,1.5],[1.2,2.4],[1.4,2.9],
   [-2.3,-4.0],[-2.0,-3.3],[-1.8,-3.0],[-1.5,-2.5],[-1.2,-2.0],[-0.9,-1.5],[-0.6,-1.0],[-0.3,-0.4],[0.0,0.2],[0.3,0.6],[0.7,1.4],[1.1,2.0]],
  [[-3.3,-1.7],[-3.1,-0.9],[-2.9,-1.4],[-2.7,-0.6],[-2.5,-1.1],[-2.3,-0.3],[-2.1,-0.8],[-1.97,2.7],[-1.9,0.0],[-1.7,-0.5],[-1.5,0.3],[-1.3,-0.2],[-1.1,0.6],[-0.9,0.1],[-0.7,0.9],[-0.6,2.7],[-0.5,0.4],[-0.3,1.2],[-0.1,0.7],[0.16,4.36],[0.1,1.5],[0.3,1.0],[0.5,1.8],[0.7,1.3],[0.9,2.0],[1.04,2.7],[1.1,1.4],[-2.4,-2.2],
   [-3.1,-1.4],[-2.8,-1.0],[-2.6,-0.8],[-2.2,-0.5],[-2.0,-0.2],[-1.6,0.0],[-1.2,0.2],[-0.8,0.5],[-0.4,0.8],[0.0,1.0],[0.4,1.3],[0.8,1.6],[1.2,1.9],[-2.9,-0.3]]
];
const rvtCvrFitS02 = [[-1.7,-0.9,1.0,-0.1],[-2.3,-2.55,1.25,1.4],[-2.2,-3.2,2.1,2.4],[-2.9,-3.2,1.05,0.5],[-1.65,-2.7,1.9,2.95],[-1.9,-5.3,3.0,5.0],[-1.25,-2.55,1.5,3.1],[-3.6,-4.5,1.2,1.3]];
const rvtCvrFitS03 = [[-1.8,-1.55,1.1,1.65],[-2.0,-3.0,0.95,1.7],[-2.05,-2.45,3.4,4.1],[-2.4,-2.55,1.2,0.4],[-2.1,-3.4,0.75,1.2],[-1.75,-5.0,3.15,4.75],[-2.5,-4.2,1.5,2.45],[-3.2,-1.55,1.2,1.8]];
const rvtCvrR02 = [0.02, 0.64, 0.79, 0.72, 0.62, 0.67, 0.8, 0.69];
const rvtCvrR03 = [0.34, 0.83, 0.69, 0.31, 0.76, 0.59, 0.77, 0.49];
const rvtCvrB02 = [0.29, 1, 1.3, 1.1, 1.6, 2.1, 2, 1.3];
const rvtCvrB03 = [1.2, 1.6, 1.3, 0.83, 1.6, 2, 1.6, 0.81];

const RED = "#F8766D";
const CYAN = "#00BFC4";
const RED_A = "rgba(248,118,109,0.55)";
const CYAN_A = "rgba(0,191,196,0.55)";
const TEAL_TITLE = "#19706c";
const BLUE_TITLE = "#1f3d9c";
const PURPLE_TITLE = "#a06ef5";
const FONT = '"Liberation Sans", Arial, sans-serif';

const PANEL_W = 132, PANEL_H = 143, PANEL_STEP = 142.4, PANEL_X0 = 94;
const PAD_L = 10, PAD_R = 10, PAD_T = 8, PAD_B = 2, Y_AXIS_W = 26, X_AXIS_H = 24;

const rows = [
  { s02: rvtDelayS02, s03: rvtDelayS03, f02: rvtDelayFitS02, f03: rvtDelayFitS03, r02: rvtDelayR02, r03: rvtDelayR03, b02: rvtDelayB02, b03: rvtDelayB03,
    top: 92, strip: true, ytitle: "RVT Delay<br>(seconds)", ycolor: TEAL_TITLE, ymid: 163,
    xtitle: "P<sub>ET</sub>CO<sub>2</sub> Delay (seconds)", xcolor: PURPLE_TITLE, xmid: 278 },
  { s02: gmDelayS02, s03: gmDelayS03, f02: gmDelayFitS02, f03: gmDelayFitS03, r02: gmDelayR02, r03: gmDelayR03, b02: gmDelayB02, b03: gmDelayB03,
    top: 370, strip: false, ytitle: "GM-BOLD Delay<br>(seconds)", ycolor: BLUE_TITLE, ymid: 446,
    xtitle: "P<sub>ET</sub>CO<sub>2</sub> Delay (seconds)", xcolor: PURPLE_TITLE, xmid: 555 },
  { s02: rvtCvrS02, s03: rvtCvrS03, f02: rvtCvrFitS02, f03: rvtCvrFitS03, r02: rvtCvrR02, r03: rvtCvrR03, b02: rvtCvrB02, b03: rvtCvrB03,
    top: 642, strip: false, ytitle: "RVT CVR<br>(seconds)", ycolor: TEAL_TITLE, ymid: 718,
    xtitle: "GM-BOLD Delay (seconds)", xcolor: BLUE_TITLE, xmid: 828 }
];

const wrap = document.getElementById("wrap");

function fmt(v) {
  return String(v).replace("-", "\u2212");
}

function isMajor(v) {
  return Math.abs(v / 2.5 - Math.round(v / 2.5)) < 1e-6;
}

const panelBg = {
  id: "panelBg",
  beforeDraw(chart) {
    const a = chart.chartArea, c = chart.ctx;
    c.save();
    c.fillStyle = "#ebebeb";
    c.fillRect(a.left, a.top, a.right - a.left, a.bottom - a.top);
    c.restore();
  }
};

function statText(items) {
  return {
    id: "statText",
    afterDatasetsDraw(chart) {
      const a = chart.chartArea, c = chart.ctx;
      const xs = chart.scales.x, ys = chart.scales.y;
      c.save();
      c.beginPath();
      c.rect(a.left, a.top, a.right - a.left, a.bottom - a.top);
      c.clip();
      c.font = "14.5px " + FONT;
      c.textAlign = "left";
      c.textBaseline = "middle";
      items.forEach(it => {
        c.fillStyle = it.color;
        c.fillText(it.text, xs.getPixelForValue(it.x), ys.getPixelForValue(it.y));
      });
      c.restore();
    }
  };
}

function axis(showLabels, isY) {
  return {
    type: "linear",
    min: isY ? -5.5 : -5.4,
    max: isY ? 5.5 : 5.45,
    afterBuildTicks: s => { s.ticks = tickValues.map(v => ({ value: v })); },
    afterFit: s => {
      if (isY) s.width = showLabels ? Y_AXIS_W : 0;
      else s.height = X_AXIS_H;
    },
    border: { display: false },
    grid: {
      color: "#ffffff",
      lineWidth: c => (c.tick && isMajor(c.tick.value)) ? 1.1 : 0.5,
      drawTicks: showLabels,
      tickLength: 3,
      tickWidth: 1,
      tickColor: c => (c.tick && isMajor(c.tick.value)) ? "#333333" : "rgba(0,0,0,0)"
    },
    ticks: {
      display: showLabels,
      autoSkip: false,
      maxRotation: 0,
      minRotation: 0,
      padding: isY ? 2 : 1,
      color: "#4d4d4d",
      font: { family: FONT, size: 13.5 },
      callback: v => tickLabels.includes(v) ? String(v) : ""
    }
  };
}

function toPts(arr) {
  return arr.map(p => ({ x: p[0], y: p[1] }));
}

rows.forEach((row, ri) => {
  subjects.forEach((subj, ci) => {
    const left = Math.round(PANEL_X0 + ci * PANEL_STEP);
    const yW = ci === 0 ? Y_AXIS_W : 0;
    const cv = document.createElement("canvas");
    cv.className = "panel";
    cv.width = PAD_L + yW + PANEL_W + PAD_R;
    cv.height = PAD_T + PANEL_H + X_AXIS_H + PAD_B;
    cv.style.left = (left - PAD_L - yW) + "px";
    cv.style.top = (row.top - PAD_T) + "px";
    wrap.appendChild(cv);

    if (row.strip) {
      const st = document.createElement("div");
      st.className = "strip";
      st.style.left = left + "px";
      st.style.top = (row.top - 29) + "px";
      st.style.width = PANEL_W + "px";
      st.textContent = subj;
      wrap.appendChild(st);
    }

    const f02 = row.f02[ci], f03 = row.f03[ci];
    const items = [
      { text: "r = " + fmt(row.r02[ci]), x: -5, y: 4.35, color: RED },
      { text: "r = " + fmt(row.r03[ci]), x: -5, y: 2.7, color: CYAN },
      { text: "\u03b2 = " + fmt(row.b02[ci]), x: 0, y: -2.75, color: RED },
      { text: "\u03b2 = " + fmt(row.b03[ci]), x: 0, y: -4.45, color: CYAN }
    ];

    new Chart(cv, {
      type: "scatter",
      data: {
        datasets: [
          { label: sessions[0], data: toPts(row.s02[ci]), backgroundColor: RED_A, borderWidth: 0, pointRadius: 3.3, order: 5, clip: 0 },
          { label: sessions[1], data: toPts(row.s03[ci]), backgroundColor: CYAN_A, borderWidth: 0, pointRadius: 3.3, order: 4, clip: 0 },
          { type: "line", data: [{ x: -6, y: -6 }, { x: 6, y: 6 }], borderColor: "#c6c6c6", borderWidth: 1, pointRadius: 0, order: 3, clip: 0 },
          { type: "line", data: [{ x: f02[0], y: f02[1] }, { x: f02[2], y: f02[3] }], borderColor: RED, borderWidth: 3, pointRadius: 0, order: 2, clip: 0 },
          { type: "line", data: [{ x: f03[0], y: f03[1] }, { x: f03[2], y: f03[3] }], borderColor: CYAN, borderWidth: 3, pointRadius: 0, order: 1, clip: 0 }
        ]
      },
      options: {
        responsive: false,
        animation: false,
        events: [],
        layout: { padding: { left: PAD_L, right: PAD_R, top: PAD_T, bottom: PAD_B } },
        plugins: { legend: { display: false }, tooltip: { enabled: false } },
        scales: {
          x: axis(true, false),
          y: axis(ci === 0, true)
        }
      },
      plugins: [panelBg, statText(items)]
    });
  });

  const yt = document.createElement("div");
  yt.className = "ytitle";
  yt.style.left = "40.5px";
  yt.style.top = row.ymid + "px";
  yt.style.color = row.ycolor;
  yt.innerHTML = row.ytitle;
  wrap.appendChild(yt);

  const xt = document.createElement("div");
  xt.className = "xtitle";
  xt.style.left = "648px";
  xt.style.top = (row.xmid - 15) + "px";
  xt.style.color = row.xcolor;
  xt.innerHTML = row.xtitle;
  wrap.appendChild(xt);
});

// legend
[[383, RED, sessions[0]], [635, CYAN, sessions[1]]].forEach(([x, col, name]) => {
  const k = document.createElement("div");
  k.className = "legkey";
  k.style.left = x + "px";
  k.style.top = "14px";
  k.style.width = "77px";
  k.style.background = col;
  wrap.appendChild(k);
  const t = document.createElement("div");
  t.className = "legtxt";
  t.style.left = (x + 84) + "px";
  t.style.top = "3.5px";
  t.textContent = name;
  wrap.appendChild(t);
});
</script>
</body>
</html>
